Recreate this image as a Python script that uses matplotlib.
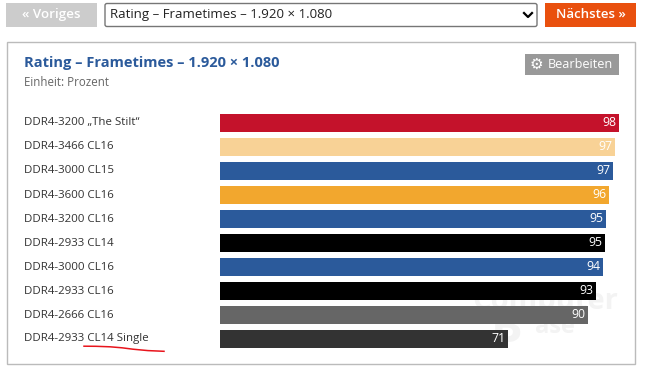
import matplotlib
matplotlib.use('Agg')
import matplotlib.pyplot as plt
from matplotlib.patches import Rectangle, FancyBboxPatch
from matplotlib.transforms import ScaledTranslation

plt.rcParams['font.family'] = ['Open Sans', 'DejaVu Sans']

W, H = 670, 372

# Daten
labels = ['DDR4-3200 „The Stilt“', 'DDR4-3466 CL16', 'DDR4-3000 CL15', 'DDR4-3600 CL16', 'DDR4-3200 CL16',
          'DDR4-2933 CL14', 'DDR4-3000 CL16', 'DDR4-2933 CL16', 'DDR4-2666 CL16', 'DDR4-2933 CL14 Single']
values = [98.4, 97.4, 96.9, 95.9, 95.2, 94.9, 94.4, 92.7, 90.7, 71.0]
value_labels = ['98', '97', '97', '96', '95', '95', '94', '93', '90', '71']
colors = ['#c4122b', '#f8d296', '#2b5a9b', '#f2a72e', '#2b5a9b', '#000000', '#2b5a9b', '#000000', '#666666', '#333333']

title = 'Rating – Frametimes – 1.920 × 1.080'
unit = 'Einheit: Prozent'

# Linie unter "CL14 Single", von Hand gezeichnet
mark_x = [84, 96, 110, 122, 133, 148, 164]
mark_y = [346.2, 346.3, 346.8, 347.8, 349.2, 350.6, 351.3]

fig = plt.figure(figsize=(W / 100, H / 100), dpi=100, facecolor='white')
bg = fig.add_axes([0, 0, 1, 1])
bg.set_xlim(0, W)
bg.set_ylim(H, 0)
bg.axis('off')

# Seitenelemente oben
bg.add_patch(Rectangle((6, 3), 91, 24, fc='#cccccc', ec='none'))
bg.text(51.5, 14.5, '« Voriges', color='white', fontsize=9.6, ha='center', va='center', weight='semibold')
bg.add_patch(FancyBboxPatch((105, 3.5), 432, 23, boxstyle='round,pad=0,rounding_size=2', fc='white', ec='#767676', lw=1))
bg.text(110, 14.5, title, color='#222222', fontsize=9.5, ha='left', va='center')
bg.plot([524, 528, 532], [13, 17, 13], color='black', lw=1.6)
bg.add_patch(Rectangle((545, 3), 91, 24, fc='#e9500e', ec='none'))
bg.text(590.5, 14.5, 'Nächstes »', color='white', fontsize=9.5, ha='center', va='center', weight='semibold')

# Rahmen
bg.add_patch(Rectangle((6.5, 41.5), 628, 322, fc='white', ec='#bbbbbb', lw=1))
bg.text(24, 63.5, title, color='#2b5a9b', fontsize=10.5, weight='bold', ha='left', va='center')
bg.text(24, 83, unit, color='#666666', fontsize=8.3, ha='left', va='center')
bg.add_patch(Rectangle((525, 54), 94, 21, fc='#999999', ec='none'))
bg.text(530, 64, '\u2699', color='white', fontsize=11, ha='left', va='center', family='DejaVu Sans', weight='bold')
bg.text(548, 64.5, 'Bearbeiten', color='white', fontsize=9.1, ha='left', va='center')

# Wasserzeichen
bg.text(472, 301, 'Computer', color='#f3f3f3', fontsize=21, weight='bold', ha='left', va='center')
bg.text(491, 330, 'B', color='#f3f3f3', fontsize=34, weight='bold', ha='left', va='center')
bg.text(535, 327, 'ase', color='#f3f3f3', fontsize=17, weight='bold', ha='left', va='center')

# Balken
ax = fig.add_axes([220 / W, 1 - 351 / H, 399 / W, 240 / H])
ax.patch.set_alpha(0)
ypos = list(range(len(values)))
ax.barh(ypos, values, height=0.75, color=colors)
ax.set_xlim(0, 98.4)
ax.set_ylim(len(values) - 0.5, -0.5)
for s in ax.spines.values():
    s.set_visible(False)
ax.set_xticks([])
ax.set_yticks(ypos)
ax.set_yticklabels(labels, fontsize=8.25, color='#333333', ha='left')
ax.tick_params(axis='y', length=0, pad=196 * 0.72)
shift = ScaledTranslation(0, 1.5 / 72 * 0.72, fig.dpi_scale_trans)
for lab in ax.get_yticklabels():
    lab.set_transform(lab.get_transform() + shift)
for y, v, t in zip(ypos, values, value_labels):
    ax.text(v - 0.55, y, t, color='white', fontsize=8.8, weight='medium', ha='right', va='center')

bg.plot(mark_x, mark_y, color='#e8141c', lw=1.1)

fig.savefig('out.png', dpi=100)
